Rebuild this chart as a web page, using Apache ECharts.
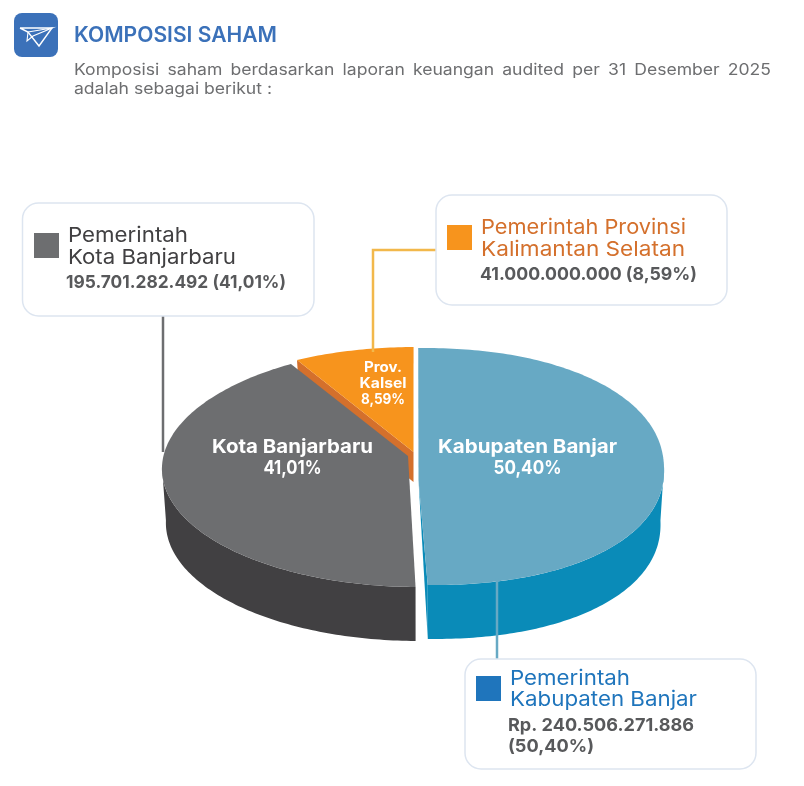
<!DOCTYPE html>
<html><head><meta charset="utf-8">
<style>html,body{margin:0;padding:0;background:#fff}#c{width:804px;height:786px}</style>
<script src="https://cdn.jsdelivr.net/npm/echarts@6/dist/echarts.min.js"></script>
</head><body><div id="c"></div>
<script>
// ---- data ----
const categories = ['Kabupaten Banjar', 'Kota Banjarbaru', 'Prov. Kalsel'];
const shareValues = [240506271886, 195701282492, 41000000000];
const percentLabels = ['50,40%', '41,01%', '8,59%'];
const sliceLabelLines = [['Kabupaten Banjar', '50,40%'], ['Kota Banjarbaru', '41,01%'], ['Prov.', 'Kalsel', '8,59%']];
const titleText = 'KOMPOSISI SAHAM';
const introLine1 = 'Komposisi saham berdasarkan laporan keuangan audited per 31 Desember 2025';
const introLine2 = 'adalah sebagai berikut :';
const calloutGray = ['Pemerintah', 'Kota Banjarbaru', '195.701.282.492 (41,01%)'];
const calloutOrange = ['Pemerintah Provinsi', 'Kalimantan Selatan', '41.000.000.000 (8,59%)'];
const calloutBlue = ['Pemerintah', 'Kabupaten Banjar', 'Rp. 240.506.271.886', '(50,40%)'];

// ---- drawing layout ----
const startDeg = -0.72;
const sliceStyle = [
  {cx:427,cy:466.5,rx:237,ry:118.5,s:0.04,n:2.15,ax:418.5,ay:480,depth:54,top:'#67a9c4',wall:'#0a8bb8',z:10,labelX:527.5,labelY:[446,467],size:19,labelW:[179,68]},
  {cx:424,cy:466.5,rx:262,ry:120.5,s:-0.043,n:2,ax:408,ay:456,depth:54,top:'#6d6e70',wall:'#414042',z:10,labelX:292.5,labelY:[446,467],size:19,labelW:[161,58]},
  {cx:416.4,cy:434,rx:227.5,ry:87,s:0,n:2,ax:413.5,ay:452,depth:30,top:'#f7941d',wall:'#d4702c',z:1,labelX:383,labelY:[367,383,399],size:14,labelW:[38,47,44]}
];
const wallTaper = 0.985;
const FONT = 'Inter';
const total = shareValues.reduce((a,b)=>a+b,0);
const ctx = document.createElement('canvas').getContext('2d');
function fitScale(text,font,w){ ctx.font=font; return w/ctx.measureText(text).width; }

function rimPoint(st,deg,extra){
  const t = deg*Math.PI/180, e = 2/st.n;
  const sn = Math.sin(t), cs = Math.cos(t);
  const yOff = -st.ry*Math.sign(cs)*Math.pow(Math.abs(cs),e);
  const xOff = st.rx*Math.sign(sn)*Math.pow(Math.abs(sn),e)*(extra?wallTaper:1);
  return [st.cx + xOff + st.s*yOff, st.cy + yOff + (extra||0)];
}
function renderSlice(params, api){
  const i = api.value(0);
  let before = 0;
  for (let k=0;k<i;k++) before += shareValues[k];
  const a0 = startDeg + before/total*360;
  const a1 = a0 + api.value(1)/total*360;
  const st = sliceStyle[i];
  const top=[];
  for (let d=a0; d<a1; d+=1) top.push(rimPoint(st,d));
  top.push(rimPoint(st,a1));
  // outer wall: only the near half of the rim faces the viewer
  const w0 = Math.max(a0,90), w1 = Math.min(a1,270);
  const wallUp=[], wallDown=[];
  if (w0 < w1) {
    for (let d=w0; d<w1; d+=1){ wallUp.push(rimPoint(st,d)); wallDown.push(rimPoint(st,d,st.depth)); }
    wallUp.push(rimPoint(st,w1)); wallDown.push(rimPoint(st,w1,st.depth));
  }
  const startP = rimPoint(st,a0), endP = rimPoint(st,a1);
  const children = [];
  if (wallUp.length) children.push({type:'polygon',z2:st.z,shape:{points:wallUp.concat(wallDown.reverse())},style:{fill:st.wall}});
  if (i===0) children.push({type:'polygon',z2:st.z,shape:{points:[[st.ax,st.ay],endP,rimPoint(st,a1,st.depth)]},style:{fill:st.wall}});
  if (i===2) children.push({type:'polygon',z2:st.z,shape:{points:[[st.ax,st.ay],startP,rimPoint(st,a0,st.depth),[st.ax,st.ay+st.depth]]},style:{fill:st.wall}});
  children.push({type:'polygon',z2:st.z+1,shape:{points:[[st.ax,st.ay]].concat(top)},style:{fill:st.top}});
  sliceLabelLines[i].forEach((t,j)=>{
    const font='700 '+st.size+'px '+FONT;
    children.push({type:'text',z2:30,x:st.labelX-st.labelW[j]/2,y:st.labelY[j]+1,scaleX:fitScale(t,font,st.labelW[j]),
      style:{text:t,x:0,y:0,align:'left',verticalAlign:'middle',fill:'#fff',font}});
  });
  return {type:'group',children};
}

// ---- graphic helpers ----
function txt(text,x,y,size,weight,fill,width,scale){
  const font=weight+' '+size+'px '+FONT;
  return {type:'text',z:20,x,y:y+1,scaleX:width?fitScale(text,font,width):(scale||1),
    style:{text,x:0,y:0,fill,font,verticalAlign:'middle',align:'left'}};
}
const introScale = fitScale(introLine2,'400 15.5px '+FONT,198);
function justified(line,x0,x1,y,size,fill){
  ctx.font='400 '+size+'px '+FONT;
  const words=line.split(' ');
  const w=words.map(t=>ctx.measureText(t).width*introScale);
  const gap=(x1-x0-w.reduce((a,b)=>a+b,0))/(words.length-1);
  let x=x0;
  return words.map((t,i)=>{const e=txt(t,x,y,size,400,fill,0,introScale);x+=w[i]+gap;return e;});
}
function box(x,y,w,h){return {type:'rect',z:15,shape:{x,y,width:w,height:h,r:16},style:{fill:'#fff',stroke:'#dde5f0',lineWidth:1.5}};}
function swatch(x,y,c){return {type:'rect',z:20,shape:{x,y,width:25,height:25},style:{fill:c}};}
function line(points,c,w){return {type:'polyline',z:12,shape:{points},style:{stroke:c,lineWidth:w,fill:null}};}

const NAME=20.5, VAL=17.5, GREY='#58595b';
const graphics = [
  {type:'rect',z:20,shape:{x:14,y:13,width:44,height:44,r:8},style:{fill:'#3b71b9'}},
  {type:'polyline',z:21,shape:{points:[[20,28],[52,28],[39,46],[28,32],[20,28]]},style:{stroke:'#fff',lineWidth:1.4,fill:null}},
  {type:'polyline',z:21,shape:{points:[[28,32],[52,28],[33,36],[27,41],[28,32]]},style:{stroke:'#fff',lineWidth:1.1,fill:null}},
  txt(titleText,74,35,21,600,'#3b71b9',203),
  ...justified(introLine1,74,771,69.5,15.5,'#6d6e70'),
  txt(introLine2,74,88.5,15.5,400,'#6d6e70',198),
  line([[163,316],[163,452]],'#6d6e70',2.5),
  line([[436,250],[373,250],[373,352]],'#f2b84b',2.5),
  line([[497,578],[497,659]],'#67a9c4',2.5),
  box(22.5,203,291.5,113), swatch(34,233,'#6d6e70'),
  txt(calloutGray[0],68,234.5,NAME,400,'#414042',120),
  txt(calloutGray[1],68,256.5,NAME,400,'#414042',168),
  txt(calloutGray[2],66,281.5,VAL,700,GREY,220),
  box(436,195,291,110), swatch(447,225,'#f7941d'),
  txt(calloutOrange[0],481,226.5,NAME,400,'#d4702c',205),
  txt(calloutOrange[1],481,248.5,NAME,400,'#d4702c',204),
  txt(calloutOrange[2],480,273.5,VAL,700,GREY,217),
  box(465,659,291,110), swatch(476,676,'#1f75bc'),
  txt(calloutBlue[0],510,677.5,NAME,400,'#1f75bc',120),
  txt(calloutBlue[1],510,699,NAME,400,'#1f75bc',187),
  txt(calloutBlue[2],508,725,VAL,700,GREY,186),
  txt(calloutBlue[3],508,746,VAL,700,GREY,86)
];

const chart = echarts.init(document.getElementById('c'),null,{renderer:'canvas'});
chart.setOption({
  animation:false,
  backgroundColor:'#fff',
  graphic:{elements:graphics},
  series:[{type:'custom',coordinateSystem:'none',z:5,renderItem:renderSlice,
    data:shareValues.map((v,i)=>({name:categories[i],value:[i,v]}))}]
});
</script></body></html>
